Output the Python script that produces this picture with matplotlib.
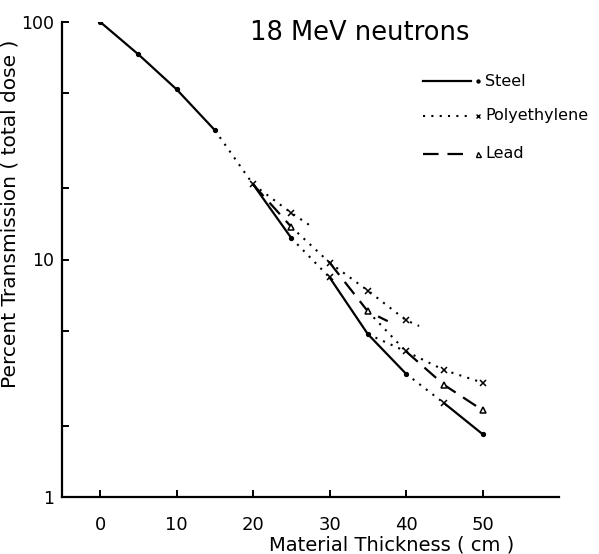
import numpy as np
import matplotlib
matplotlib.use('Agg')
from matplotlib import pyplot as plt
from matplotlib.ticker import FixedLocator, NullFormatter

# segments: (thickness cm, percent transmission)
# third list = indices of points that carry a marker
steel_0 = ([0, 5, 10, 15], [100, 73, 52, 35], [0, 1, 2, 3])
poly_0 = ([15, 20], [35, 20.7], [1])

poly_a = ([20, 25, 27.3], [20.7, 15.7, 14.0], [1])
lead_a = ([20, 25], [20.7, 13.7], [1])
steel_a = ([20, 25], [20.7, 12.3], [1])

poly_b = ([25, 30], [13.7, 9.7], [1])
poly_c = ([25, 30], [12.3, 8.4], [1])

poly_d = ([30, 35, 40, 41.7], [9.7, 7.4, 5.55, 5.25], [1, 2])
lead_d = ([30, 35, 37.6], [9.7, 6.05, 5.5], [1])
steel_d = ([30, 35], [8.4, 4.85], [1])

poly_e = ([35, 40], [6.05, 4.1], [1])
poly_f = ([35, 40], [4.85, 4.1], [])
steel_f = ([35, 40], [4.85, 3.3], [1])

poly_g = ([40, 45, 50], [4.1, 3.42, 3.03], [1, 2])
lead_g = ([40, 45, 50], [4.1, 2.96, 2.32], [1, 2])
poly_h = ([40, 45], [3.3, 2.48], [1])
steel_h = ([45, 50], [2.48, 1.84], [1])

x_ticks = [0, 10, 20, 30, 40, 50]
y_ticks = [1, 10, 100]
y_minor = [2, 5, 20, 50]

solid = dict(color='black', lw=1.6, ls='-')
dotted = dict(color='black', lw=1.5, ls=(0, (1, 3)))
dashed = dict(color='black', lw=1.6, ls=(0, (7, 4)))

steel_m = dict(marker='o', ms=2.7, mfc='black')
poly_m = dict(marker='x', ms=4, mfc='black')
lead_m = dict(marker='^', ms=4.5, mfc='white')


def seg(ax, data, style, mk):
    x, y, idx = data
    ax.plot(x, y, **style)
    if idx:
        ax.plot([x[i] for i in idx], [y[i] for i in idx], ls='none',
                mec='black', mew=1.1, **mk)


def main():
    fig = plt.figure(figsize=(5.99, 5.54), dpi=100)
    ax = fig.add_axes([62/599, 1-497/554, (559-62)/599, (497-22)/554])
    ax.set_yscale('log')
    ax.set_xlim(-5, 60)
    ax.set_ylim(1, 100)

    for d in [steel_0, steel_a, steel_d, steel_f, steel_h]:
        seg(ax, d, solid, steel_m)
    for d in [poly_0, poly_a, poly_b, poly_c, poly_d, poly_e, poly_f, poly_g, poly_h]:
        seg(ax, d, dotted, poly_m)
    for d in [lead_a, lead_d, lead_g]:
        seg(ax, d, dashed, lead_m)

    # axes look
    for s in ['top', 'right']:
        ax.spines[s].set_visible(False)
    for s in ['left', 'bottom']:
        ax.spines[s].set_linewidth(1.6)
    ax.xaxis.set_major_locator(FixedLocator(x_ticks))
    ax.set_xticklabels([str(t) for t in x_ticks])
    ax.yaxis.set_major_locator(FixedLocator(y_ticks))
    ax.set_yticklabels([str(t) for t in y_ticks])
    ax.yaxis.set_minor_locator(FixedLocator(y_minor))
    ax.yaxis.set_minor_formatter(NullFormatter())
    ax.tick_params(axis='x', direction='in', length=5, width=1.4, pad=14, labelsize=13)
    ax.tick_params(axis='y', which='both', direction='in', length=5, width=1.4, pad=6, labelsize=12.5)

    ax.set_xlabel('Material Thickness ( cm )', fontsize=14)
    ax.xaxis.set_label_coords(0.664, -0.081)
    ax.set_ylabel('Percent Transmission ( total dose )', fontsize=14.5)
    ax.yaxis.set_label_coords(-0.085, 0.596)

    ax.text(0.6, 0.977, '18 MeV neutrons', transform=ax.transAxes,
            fontsize=18.5, ha='center', va='center')

    # legend drawn by hand
    leg = [('Steel', solid, steel_m, 0.875),
           ('Polyethylene', dotted, poly_m, 0.803),
           ('Lead', dashed, lead_m, 0.723)]
    for name, style, mk, yy in leg:
        ax.plot([0.727, 0.822], [yy, yy], transform=ax.transAxes, **style)
        ax.plot([0.838], [yy], transform=ax.transAxes, ls='none',
                mec='black', mew=1.0, **dict(mk, ms=mk['ms'] * 0.8))
        ax.text(0.852, yy, name, transform=ax.transAxes, fontsize=11.5,
                ha='left', va='center')

    fig.savefig('out.png', dpi=100)


if __name__ == '__main__':
    main()
